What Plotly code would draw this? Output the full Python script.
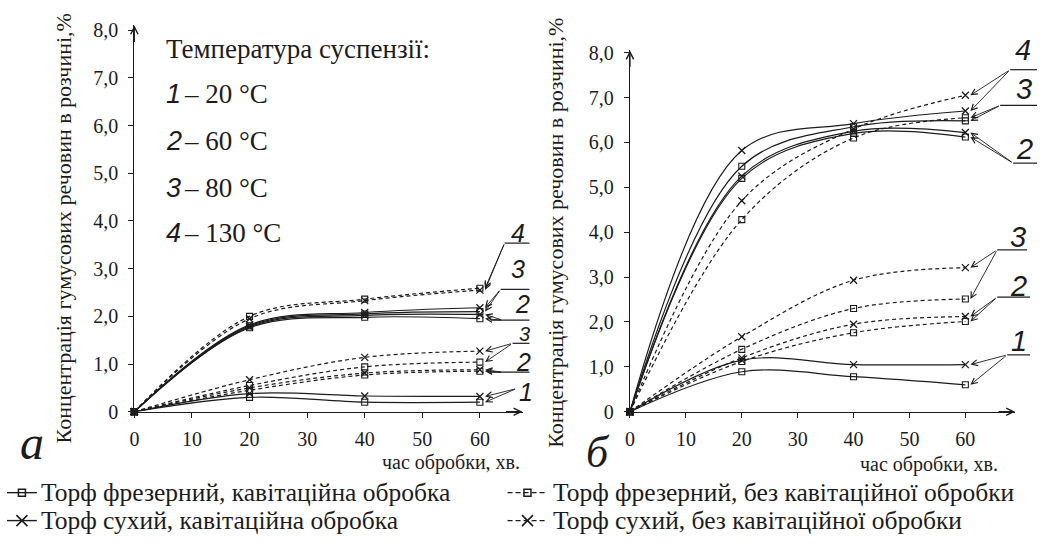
import plotly.graph_objects as go

W, H = 1040, 547

# time of treatment, min
t = [0, 20, 40, 60]

# ---- panel а: humic substances concentration, %
a_t4_mill_nc = [0, 2.00, 2.36, 2.59]
a_t4_dry_nc = [0, 1.95, 2.33, 2.55]
a_t3_dry_c = [0, 1.82, 2.08, 2.18]
a_t3_mill_c = [0, 1.80, 2.05, 2.10]
a_t2_dry_c = [0, 1.78, 2.02, 2.04]
a_t2_mill_c = [0, 1.76, 1.98, 1.95]
a_t3_dry_nc = [0, 0.67, 1.14, 1.27]
a_t3_mill_nc = [0, 0.55, 0.94, 1.04]
a_t2_dry_nc = [0, 0.50, 0.81, 0.88]
a_t2_mill_nc = [0, 0.45, 0.77, 0.85]
a_t1_dry_c = [0, 0.38, 0.33, 0.32]
a_t1_mill_c = [0, 0.30, 0.20, 0.20]

# ---- panel б
b_t4_dry_nc = [0, 4.70, 6.30, 7.05]
b_t4_mill_nc = [0, 4.28, 6.10, 6.55]
b_t4_dry_c = [0, 5.82, 6.42, 6.70]
b_t3_mill_c = [0, 5.47, 6.35, 6.48]
b_t2_dry_c = [0, 5.25, 6.25, 6.22]
b_t2_mill_c = [0, 5.20, 6.20, 6.12]
b_t3_dry_nc = [0, 1.67, 2.93, 3.21]
b_t3_mill_nc = [0, 1.39, 2.30, 2.51]
b_t2_dry_nc = [0, 1.20, 1.95, 2.12]
b_t2_mill_nc = [0, 1.12, 1.76, 2.01]
b_t1_dry_c = [0, 1.15, 1.05, 1.05]
b_t1_mill_c = [0, 0.89, 0.78, 0.60]

y_ticks = [0, 1, 2, 3, 4, 5, 6, 7, 8]
y_ticktext = ["0", "1,0", "2,0", "3,0", "4,0", "5,0", "6,0", "7,0", "8,0"]
x_ticks = [0, 10, 20, 30, 40, 50, 60]

temps = ["20 °C", "60 °C", "80 °C", "130 °C"]
legend_names = [
    "Торф фрезерний, кавітаційна обробка",
    "Торф фрезерний, без кавітаційної обробки",
    "Торф сухий, кавітаційна обробка",
    "Торф сухий, без кавітаційної обробки",
]

INK = "#1c1c1c"
SERIF = "Liberation Serif"
SANS = "Liberation Sans"
DASH = "4px,3px"

# pixel frame of the two plot areas
A_X0, A_X1, A_Y0, A_Y1 = 130, 520, 418, 17
B_X0, B_X1, B_Y0, B_Y1 = 628, 1015, 418, 43
A_XR, A_YR = [0, 67.4], [0, 8.1]
B_XR, B_YR = [0, 68.9], [0, 8.05]


def px(p):
    return p / W


def py(p):
    return 1 - p / H


def a_data(x, y):
    return ((x - A_X0) / (A_X1 - A_X0) * A_XR[1], (A_Y0 - y) / (A_Y0 - A_Y1) * A_YR[1])


def b_data(x, y):
    return ((x - B_X0) / (B_X1 - B_X0) * B_XR[1], (B_Y0 - y) / (B_Y0 - B_Y1) * B_YR[1])


def label(x, y, text, family, size, xanchor="center", angle=0):
    return dict(xref="paper", yref="paper", x=px(x), y=py(y), text=text,
                xanchor=xanchor, yanchor="middle", textangle=angle, showarrow=False,
                font=dict(family=family, size=size, color=INK))


fig = go.Figure()


def series(vals, kind, dashed, xa, ya):
    marker = (dict(symbol="square-open", size=6, color=INK, line=dict(width=1.1, color=INK))
              if kind == "mill" else
              dict(symbol="x-thin", size=7, color=INK, line=dict(width=1.3, color=INK)))
    fig.add_trace(go.Scatter(
        x=t, y=vals, mode="lines+markers", xaxis=xa, yaxis=ya,
        line=dict(color=INK, width=1.2, dash=DASH if dashed else "solid",
                  shape="spline", smoothing=1.0),
        marker=marker, showlegend=False, hoverinfo="skip", cliponaxis=False))


for vals, kind, dashed in [
    (a_t4_mill_nc, "mill", True), (a_t4_dry_nc, "dry", True),
    (a_t3_dry_c, "dry", False), (a_t3_mill_c, "mill", False),
    (a_t2_dry_c, "dry", False), (a_t2_mill_c, "mill", False),
    (a_t3_dry_nc, "dry", True), (a_t3_mill_nc, "mill", True),
    (a_t2_dry_nc, "dry", True), (a_t2_mill_nc, "mill", True),
    (a_t1_dry_c, "dry", False), (a_t1_mill_c, "mill", False),
]:
    series(vals, kind, dashed, "x", "y")

for vals, kind, dashed in [
    (b_t4_dry_nc, "dry", True), (b_t4_mill_nc, "mill", True),
    (b_t4_dry_c, "dry", False), (b_t3_mill_c, "mill", False),
    (b_t2_dry_c, "dry", False), (b_t2_mill_c, "mill", False),
    (b_t3_dry_nc, "dry", True), (b_t3_mill_nc, "mill", True),
    (b_t2_dry_nc, "dry", True), (b_t2_mill_nc, "mill", True),
    (b_t1_dry_c, "dry", False), (b_t1_mill_c, "mill", False),
]:
    series(vals, kind, dashed, "x2", "y2")

# ---- legend glyphs on a full-page overlay axis (pixel units)
leg_rows = [502, 531]
leg_cols = [(2, 32, 34), (505, 545, 549)]
leg_items = [(legend_names[0], "mill", False, 0, 0), (legend_names[1], "mill", True, 1, 0),
             (legend_names[2], "dry", False, 0, 1), (legend_names[3], "dry", True, 1, 1)]
annotations = []
for name, kind, dashed, c, r in leg_items:
    x0, x1, tx = leg_cols[c]
    yy = leg_rows[r]
    fig.add_trace(go.Scatter(
        x=[x0, x1], y=[yy, yy], mode="lines", xaxis="x3", yaxis="y3",
        line=dict(color=INK, width=1.4, dash="5px,3px" if dashed else "solid"),
        showlegend=False, hoverinfo="skip"))
    fig.add_trace(go.Scatter(
        x=[(x0 + x1) / 2], y=[yy], mode="markers", xaxis="x3", yaxis="y3",
        marker=(dict(symbol="square-open", size=7, color=INK, line=dict(width=1.5, color=INK))
                if kind == "mill" else
                dict(symbol="x-thin", size=11, color=INK, line=dict(width=1.6, color=INK))),
        showlegend=False, hoverinfo="skip"))
    annotations.append(label(tx, yy, name, SERIF, 25.5, xanchor="left"))

# ---- temperature key
annotations.append(label(160, 41, "Температура суспензії:", SERIF, 27, xanchor="left"))
for i, (tt, yy) in enumerate(zip(temps, [88, 137, 186, 233])):
    annotations.append(label(160, yy, "<i>%d</i>" % (i + 1), SANS, 27, xanchor="left"))
    annotations.append(label(178, yy, "– " + tt, SERIF, 27, xanchor="left"))

# ---- axis titles and panel letters
for cx, cy in [(59, 228), (553, 232)]:
    annotations.append(label(cx, cy, "Концентрація гумусових речовин в розчині,%",
                             SERIF, 22, angle=-90))
for cx, cy in [(448, 471), (928, 473)]:
    annotations.append(label(cx, cy, "час обробки, хв.", SERIF, 20))
annotations.append(label(27, 450, "<i>а</i>", SERIF, 48))
annotations.append(label(596, 460, "<i>б</i>", SERIF, 44))

# ---- axis arrowheads
for xa, ya, xr, yr in [("x", "y", A_XR, A_YR), ("x2", "y2", B_XR, B_YR)]:
    annotations.append(dict(xref=xa, yref=ya, x=0, y=yr[1], ax=0, ay=18, text="",
                            showarrow=True, arrowhead=5, arrowsize=1.2, arrowwidth=1.2,
                            arrowcolor=INK))
    annotations.append(dict(xref=xa, yref=ya, x=xr[1], y=0, ax=-18, ay=0, text="",
                            showarrow=True, arrowhead=5, arrowsize=1.2, arrowwidth=1.2,
                            arrowcolor=INK))

# ---- numbered callouts: (label, centre px, font size, underline px, tail px, series)
callouts_a = [
    ("4", (515, 232), 25, (502, 527, 243), (502, 243), [a_t4_mill_nc, a_t4_dry_nc]),
    ("3", (515, 270), 25, (498, 527, 291), (498, 291), [a_t3_dry_c, a_t3_mill_c]),
    ("2", (520, 306), 25, (488, 527, 323), (500, 323), [a_t2_dry_c, a_t2_mill_c]),
    ("3", (522, 337), 20, (510, 527, 347), (510, 347), [a_t3_dry_nc, a_t3_mill_nc]),
    ("2", (521, 366), 25, (488, 527, 377), (500, 377), [a_t2_dry_nc, a_t2_mill_nc]),
    ("1", (524, 398), 25, None, (514, 394), [a_t1_dry_c, a_t1_mill_c]),
]
callouts_b = [
    ("4", (1023, 43), 29, (1010, 1037, 63), (1010, 63), [b_t4_dry_nc, b_t4_dry_c]),
    ("3", (1024, 83), 29, (1000, 1037, 100), (1000, 100), [b_t4_mill_nc, b_t3_mill_c]),
    ("2", (1024, 145), 29, (1013, 1037, 160), (1013, 160), [b_t2_dry_c, b_t2_mill_c]),
    ("3", (1018, 237), 29, (997, 1027, 250), (997, 250), [b_t3_dry_nc, b_t3_mill_nc]),
    ("2", (1018, 287), 29, (997, 1030, 299), (997, 299), [b_t2_dry_nc, b_t2_mill_nc]),
    ("1", (1019, 345), 29, (1007, 1030, 359), (1007, 359), [b_t1_dry_c, b_t1_mill_c]),
]
shapes = []
for callouts, xa, ya, conv in [(callouts_a, "x", "y", a_data), (callouts_b, "x2", "y2", b_data)]:
    for lab, (cx, cy), fs, uline, (tx, ty), sers in callouts:
        annotations.append(label(cx, cy, "<i>%s</i>" % lab, SANS, fs))
        if uline:
            shapes.append(dict(type="line", xref="paper", yref="paper",
                               x0=px(uline[0]), x1=px(uline[1]), y0=py(uline[2]), y1=py(uline[2]),
                               line=dict(color=INK, width=1.2)))
        dx, dy = conv(tx, ty)
        for s in sers:
            annotations.append(dict(xref=xa, yref=ya, axref=xa, ayref=ya,
                                    x=t[-1] + 0.9, y=s[-1], ax=dx, ay=dy, text="",
                                    showarrow=True, arrowhead=5, arrowsize=1.3,
                                    arrowwidth=0.9, arrowcolor=INK, standoff=0))

axis_common = dict(showgrid=False, zeroline=False, showline=True, linecolor=INK, linewidth=1.3,
                   ticks="outside", ticklen=5, tickwidth=1.2, tickcolor=INK,
                   tickfont=dict(family=SERIF, size=20, color=INK))

fig.update_layout(
    width=W, height=H, margin=dict(l=0, r=0, t=0, b=0),
    paper_bgcolor="white", plot_bgcolor="rgba(0,0,0,0)", showlegend=False,
    xaxis=dict(domain=[px(A_X0), px(A_X1)], range=A_XR, anchor="y", tickvals=x_ticks,
               ticklabelstandoff=4, **axis_common),
    yaxis=dict(domain=[py(A_Y0), py(A_Y1)], range=A_YR, anchor="x", tickvals=y_ticks,
               ticktext=y_ticktext, ticklabelstandoff=6, **axis_common),
    xaxis2=dict(domain=[px(B_X0), px(B_X1)], range=B_XR, anchor="y2", tickvals=x_ticks,
                ticklabelstandoff=4, **axis_common),
    yaxis2=dict(domain=[py(B_Y0), py(B_Y1)], range=B_YR, anchor="x2", tickvals=y_ticks,
                ticktext=y_ticktext, ticklabelstandoff=6, **axis_common),
    xaxis3=dict(domain=[0, 1], range=[0, W], visible=False, anchor="y3"),
    yaxis3=dict(domain=[0, 1], range=[H, 0], visible=False, anchor="x3"),
    annotations=annotations, shapes=shapes,
)

fig.write_html("out.html")
